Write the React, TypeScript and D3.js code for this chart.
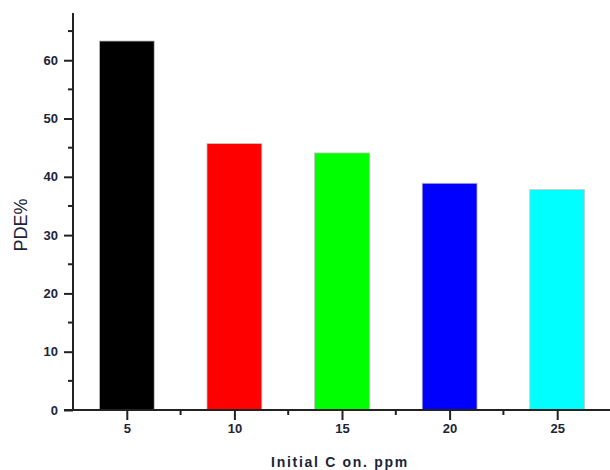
import React, { useEffect, useRef } from 'react';
import * as d3 from 'd3';

const categories = [5, 10, 15, 20, 25];
const values = [63.3, 45.7, 44.1, 38.9, 37.8];
const colors = ['#000000', '#ff0000', '#00ff00', '#0000ff', '#00ffff'];
const yTicks = [0, 10, 20, 30, 40, 50, 60];

const App: React.FC = () => {
  const svgRef = useRef<SVGSVGElement>(null);

  useEffect(() => {
    if (!svgRef.current) return;
    const width = 610;
    const height = 470;
    const svg = d3.select(svgRef.current);
    svg.selectAll('*').remove();
    svg.attr('width', width).attr('height', height);

    // Axis frame
    const x = d3.scaleLinear().domain([2.5, 27.5]).range([73, 611]);
    const y = d3.scaleLinear().domain([0, 68.1]).range([410, 13]);
    const barW = x(2.55) - x(0);
    const textColor = '#1c2438';
    const font = 'Arial, "Liberation Sans", sans-serif';

    // Bars
    svg.selectAll('.bar')
      .data(values)
      .enter()
      .append('rect')
      .attr('class', 'bar')
      .attr('x', (d, i) => x(categories[i]) - barW / 2)
      .attr('y', d => y(d))
      .attr('width', barW)
      .attr('height', d => y(0) - y(d))
      .attr('fill', (d, i) => colors[i])
      .attr('stroke', '#c8c8c8')
      .attr('stroke-width', 0.8);

    // Y axis
    const yAxis = d3.axisLeft(y)
      .tickValues(yTicks)
      .tickSize(9)
      .tickPadding(6)
      .tickFormat(d3.format('d'));
    const gy = svg.append('g')
      .attr('transform', `translate(${x(2.5)},0)`)
      .call(yAxis);
    gy.select('.domain').attr('d', `M0,${y(68.1)}V${y(0)}`);
    gy.selectAll('.tick line').attr('stroke', '#222').attr('stroke-width', 2);
    gy.selectAll('text')
      .style('font-family', font)
      .style('font-size', '13px')
      .style('font-weight', 'bold')
      .style('fill', textColor);
    gy.select('.domain').attr('stroke', '#222').attr('stroke-width', 2);

    // Y minor ticks
    svg.append('g')
      .selectAll('line')
      .data(yTicks.map(t => t + 5))
      .enter()
      .append('line')
      .attr('x1', x(2.5) - 5)
      .attr('x2', x(2.5))
      .attr('y1', d => y(d))
      .attr('y2', d => y(d))
      .attr('stroke', '#222')
      .attr('stroke-width', 2);

    // X axis
    const xAxis = d3.axisBottom(x)
      .tickValues(categories)
      .tickSize(10)
      .tickPadding(4)
      .tickFormat(d3.format('d'));
    const gx = svg.append('g')
      .attr('transform', `translate(0,${y(0)})`)
      .call(xAxis);
    gx.select('.domain').attr('d', `M${x(2.5) - 9},0H${x(27.5)}`).attr('stroke', '#222').attr('stroke-width', 2);
    gx.selectAll('.tick line').attr('stroke', '#222').attr('stroke-width', 2);
    gx.selectAll('text')
      .style('font-family', font)
      .style('font-size', '13px')
      .style('font-weight', 'bold')
      .style('fill', textColor);

    // X minor ticks
    svg.append('g')
      .selectAll('line')
      .data(categories.map(c => c - 2.5).concat([27.5]).filter(v => v > 2.5 && v < 27.5))
      .enter()
      .append('line')
      .attr('x1', d => x(d))
      .attr('x2', d => x(d))
      .attr('y1', y(0))
      .attr('y2', y(0) + 5)
      .attr('stroke', '#222')
      .attr('stroke-width', 2);

    // Axis titles
    svg.append('text')
      .attr('x', 340)
      .attr('y', 467)
      .attr('text-anchor', 'middle')
      .style('font-family', font)
      .style('font-size', '14px')
      .style('font-weight', 'bold')
      .style('letter-spacing', '1.7px')
      .style('fill', textColor)
      .text('Initial C on. ppm');

    svg.append('text')
      .attr('transform', 'translate(27,225) rotate(-90)')
      .attr('text-anchor', 'middle')
      .style('font-family', font)
      .style('font-size', '18px')
      .style('fill', textColor)
      .text('PDE%');
  }, []);

  return (
    <svg ref={svgRef} style={{ position: 'absolute', left: 0, top: 0, background: '#fff' }} />
  );
};

export default App;
